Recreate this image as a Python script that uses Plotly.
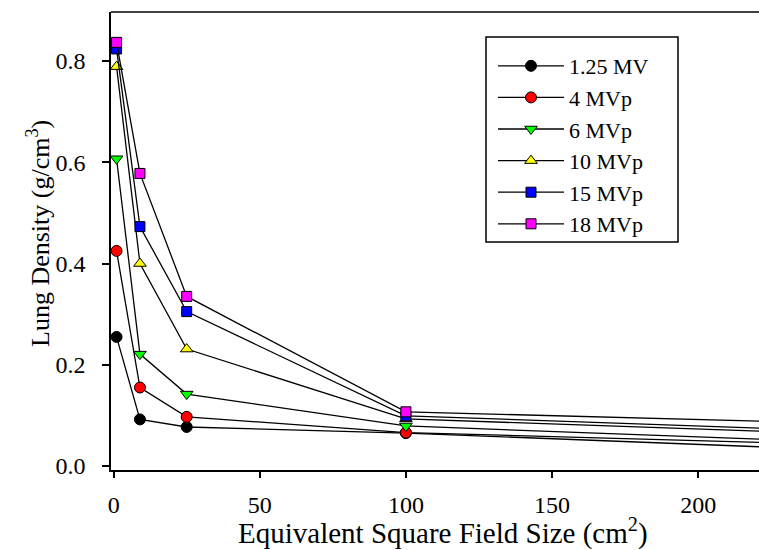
import plotly.graph_objects as go

field_size = [1, 9, 25, 100, 225]
series_names = ["1.25 MV", "4 MVp", "6 MVp", "10 MVp", "15 MVp", "18 MVp"]
d_125 = [0.255, 0.092, 0.077, 0.065, 0.037]
d_4 = [0.425, 0.155, 0.097, 0.066, 0.046]
d_6 = [0.607, 0.221, 0.142, 0.079, 0.052]
d_10 = [0.789, 0.400, 0.231, 0.093, 0.068]
d_15 = [0.824, 0.473, 0.305, 0.099, 0.074]
d_18 = [0.837, 0.578, 0.335, 0.107, 0.088]
series_values = [d_125, d_4, d_6, d_10, d_15, d_18]
x_ticks = [0, 50, 100, 150, 200]
y_ticks = [0.0, 0.2, 0.4, 0.6, 0.8]
y_tick_labels = ["0.0", "0.2", "0.4", "0.6", "0.8"]

colors = ["#000000", "#FF0000", "#00FF00", "#FFFF00", "#0000FF", "#FF00FF"]
symbols = ["circle", "circle", "triangle-down", "triangle-up", "square", "square"]
sizes = [11, 11, 11, 11, 10, 10]

FONT = "Liberation Serif, Times New Roman, serif"

# plot area in pixels
L, R, T, B = 111, 759, 12, 470
PW, PH = R - L, B - T

def px(xp):
    return (xp - L) / PW

def py(yp):
    return (B - yp) / PH

fig = go.Figure()
for name, vals, c, s, sz in zip(series_names, series_values, colors, symbols, sizes):
    fig.add_trace(go.Scatter(
        x=field_size, y=vals, name=name, mode="lines+markers",
        line=dict(color="black", width=1.3),
        marker=dict(symbol=s, size=sz, color=c, line=dict(color="black", width=1)),
        cliponaxis=True,
    ))

fig.update_layout(
    width=759, height=550,
    margin=dict(l=L, r=0, t=T, b=550 - B),
    paper_bgcolor="white", plot_bgcolor="white",
    font=dict(family=FONT, size=22, color="black"),
    showlegend=True,
    legend=dict(
        x=px(493), y=py(45), xanchor="left", yanchor="top",
        borderwidth=0, bgcolor="rgba(0,0,0,0)",
        font=dict(family=FONT, size=22), itemwidth=66, tracegroupgap=0,
    ),
    xaxis=dict(
        range=[-0.9, 220.8], showgrid=False, zeroline=False,
        showline=True, linecolor="black", linewidth=1.5,
        ticks="outside", ticklen=6, tickwidth=1.5, tickcolor="black",
        tickvals=x_ticks, ticklabelstandoff=6,
        tickfont=dict(family=FONT, size=24),
    ),
    yaxis=dict(
        range=[-0.008, 0.897], showgrid=False, zeroline=False,
        showline=True, linecolor="black", linewidth=1.5,
        ticks="outside", ticklen=7, tickwidth=1.5, tickcolor="black",
        tickvals=y_ticks, ticktext=y_tick_labels, ticklabelstandoff=12,
        tickfont=dict(family=FONT, size=24),
    ),
    shapes=[
        dict(type="line", xref="paper", yref="paper", x0=0, x1=1, y0=1, y1=1,
             line=dict(color="black", width=1.5)),
        dict(type="rect", xref="paper", yref="paper", x0=px(486), x1=px(678),
             y0=py(37), y1=py(242), line=dict(color="black", width=1.5),
             fillcolor="white", layer="below"),
    ],
    annotations=[
        dict(text="Equivalent Square Field Size (cm<sup>2</sup>)", xref="paper", yref="paper",
             x=px(443), y=py(531), xanchor="center", yanchor="middle",
             showarrow=False, font=dict(family=FONT, size=29)),
        dict(text="Lung Density (g/cm<sup>3</sup>)", xref="paper", yref="paper",
             x=px(38), y=py(234), xanchor="center", yanchor="middle",
             textangle=-90, showarrow=False, font=dict(family=FONT, size=26)),
    ],
)

fig.write_html("out.html", config={"displayModeBar": False},
               post_script="document.body.style.margin='0px';")
